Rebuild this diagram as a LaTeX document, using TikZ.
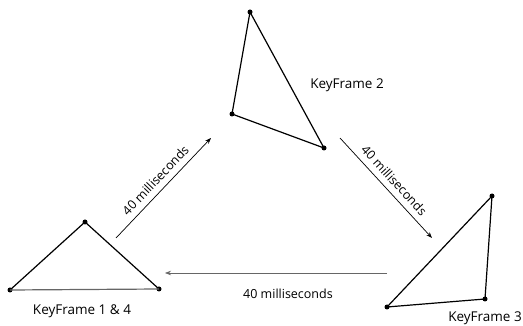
\documentclass[tikz,border=0pt]{standalone}
\usepackage{fontspec}
\setmainfont{Open Sans}
\usetikzlibrary{arrows.meta}
\begin{document}
\begin{tikzpicture}[x=1pt,y=-1pt,
  edge/.style={line width=1.2pt,black},
  vert/.style={circle,fill=black,inner sep=0pt,minimum size=5pt},
  flow/.style={line width=0.7pt,-{Stealth[length=6pt,width=4.5pt]}},
  lbl/.style={font=\fontsize{13.5}{15}\selectfont,inner sep=0pt},
  tlbl/.style={font=\fontsize{12.5}{14}\selectfont,inner sep=0pt}]
\useasboundingbox (0,0) rectangle (523,326);
% key frame 1 & 4
\node[vert] (a1) at (10,290) {};
\node[vert] (a2) at (85,222) {};
\node[vert] (a3) at (159,289) {};
\draw[edge] (a1.center) -- (a2.center) -- (a3.center);
\draw[edge,black!60] (a3.center) -- (a1.center);
% key frame 2
\node[vert] (b1) at (250,12) {};
\node[vert] (b2) at (232,114) {};
\node[vert] (b3) at (324,148) {};
\draw[edge] (b1.center) -- (b2.center) -- (b3.center) -- cycle;
% key frame 3
\node[vert] (c1) at (492,196) {};
\node[vert] (c2) at (485,299) {};
\node[vert] (c3) at (387,307) {};
\draw[edge] (c1.center) -- (c2.center) -- (c3.center) -- cycle;
% frame names
\node[lbl] (n1) at (82,311) {KeyFrame 1 \& 4};
\node[lbl] (n2) at (347,85) {KeyFrame 2};
\node[lbl] (n3) at (485,318) {KeyFrame 3};
% transitions
\coordinate (p1) at (116,238);
\coordinate (q1) at (211,138);
\draw[flow] (p1) -- (q1) node[tlbl,midway,sloped,above=6pt] {40 milliseconds};
\coordinate (p2) at (340,138);
\coordinate (q2) at (432,238);
\draw[flow] (p2) -- (q2) node[tlbl,midway,sloped,above=6pt] {40 milliseconds};
\coordinate (p3) at (387,273);
\coordinate (q3) at (165,273);
\draw[flow,black!60] (p3) -- (q3);
\node[tlbl] (t3) at (288,294) {40 milliseconds};
\end{tikzpicture}
\end{document}
